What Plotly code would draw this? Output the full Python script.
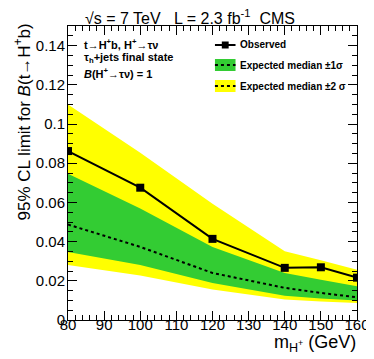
import plotly.graph_objects as go

mass = [80, 100, 120, 140, 150, 160]
observed = [0.0862, 0.0675, 0.0414, 0.0266, 0.0269, 0.0216]
expected = [0.0487, 0.0373, 0.0240, 0.0164, 0.0138, 0.0116]
exp_m1 = [0.0347, 0.0280, 0.0189, 0.0124, 0.0110, 0.0099]
exp_p1 = [0.0746, 0.0569, 0.0373, 0.0240, 0.0205, 0.0172]
exp_m2 = [0.0280, 0.0227, 0.0155, 0.0104, 0.0095, 0.0087]
exp_p2 = [0.1100, 0.0853, 0.0593, 0.0351, 0.0305, 0.0257]

YELLOW = "#ffff00"
GREEN = "#33cc33"
FONT = "Liberation Sans, Arial, sans-serif"

fig = go.Figure()
fig.add_trace(go.Scatter(x=mass, y=exp_m2, mode="lines", line=dict(width=0), showlegend=False, hoverinfo="skip"))
fig.add_trace(go.Scatter(x=mass, y=exp_p2, mode="lines", line=dict(width=0), fill="tonexty",
                         fillcolor=YELLOW, showlegend=False))
fig.add_trace(go.Scatter(x=mass, y=exp_m1, mode="lines", line=dict(width=0), showlegend=False, hoverinfo="skip"))
fig.add_trace(go.Scatter(x=mass, y=exp_p1, mode="lines", line=dict(width=0), fill="tonexty",
                         fillcolor=GREEN, showlegend=False))
fig.add_trace(go.Scatter(x=mass, y=expected, mode="lines", line=dict(color="black", width=2, dash="dot"),
                         showlegend=False))
fig.add_trace(go.Scatter(x=mass, y=observed, mode="lines+markers",
                         line=dict(color="black", width=2),
                         marker=dict(symbol="square", size=8, color="black"), showlegend=False))

L, R, T, B = 60, 19, 18, 47
W, H = 374, 359
pw, ph = W - L - R, H - T - B


def px(x):
    return (x - L) / pw


def py(y):
    return (H - B - y) / ph


axis_common = dict(
    showgrid=False, zeroline=False, showline=True, linecolor="black", linewidth=1,
    mirror="allticks", ticks="inside", ticklen=9, tickwidth=1, tickcolor="black",
    tickfont=dict(family=FONT, size=15, color="black"),
)
fig.update_xaxes(range=[80, 160], dtick=10, tick0=80, ticklabelstandoff=-9,
                 minor=dict(ticks="inside", ticklen=5, dtick=2, tick0=80, tickcolor="black"),
                 **axis_common)
fig.update_yaxes(range=[0, 0.15], dtick=0.02, tick0=0, tickformat="~g", ticklabelstandoff=-1,
                 minor=dict(ticks="inside", ticklen=5, dtick=0.005, tick0=0, tickcolor="black"),
                 **axis_common)

ann = []
ann.append(dict(text="√s = 7 TeV   L = 2.3 fb<sup>-1</sup>  CMS", x=px(75), y=py(9), xref="paper", yref="paper",
                xanchor="left", yanchor="middle", showarrow=False, font=dict(family=FONT, size=16, color="black")))
ann.append(dict(text="95% CL limit for <i>B</i>(t→H<sup>+</sup>b)", x=px(13), y=py(13), xref="paper", yref="paper",
                xanchor="center", yanchor="top", textangle=-90, showarrow=False,
                font=dict(family=FONT, size=17, color="black")))
ann.append(dict(text="m<sub>H<sup>+</sup></sub> (GeV)", x=px(356), y=py(335), xref="paper", yref="paper",
                xanchor="right", yanchor="middle", showarrow=False, font=dict(family=FONT, size=18, color="black")))

bold = dict(family=FONT, size=11, color="black")
ann.append(dict(text="<b>t→H<sup>+</sup>b, H<sup>+</sup>→τν</b>", x=px(74), y=py(36), xref="paper", yref="paper",
                xanchor="left", yanchor="middle", showarrow=False, font=bold))
ann.append(dict(text="<b>τ<sub>h</sub>+jets final state</b>", x=px(74), y=py(50), xref="paper", yref="paper",
                xanchor="left", yanchor="middle", showarrow=False, font=bold))
ann.append(dict(text="<b><i>B</i>(H<sup>+</sup>→τν) = 1</b>", x=px(74), y=py(65), xref="paper", yref="paper",
                xanchor="left", yanchor="middle", showarrow=False, font=bold))

legend_items = [("Observed", 37), ("Expected median ±1σ", 57), ("Expected median ±2 σ", 78)]
for label, yy in legend_items:
    ann.append(dict(text="<b>" + label + "</b>", x=px(234), y=py(yy), xref="paper", yref="paper",
                    xanchor="left", yanchor="middle", showarrow=False, font=dict(family=FONT, size=10, color="black")))

shapes = []
# legend symbols
shapes.append(dict(type="line", xref="paper", yref="paper", x0=px(210), x1=px(231), y0=py(37), y1=py(37),
                   line=dict(color="black", width=2)))
shapes.append(dict(type="rect", xref="paper", yref="paper", x0=px(217), x1=px(224), y0=py(33.5), y1=py(40.5),
                   fillcolor="black", line=dict(width=0)))
for col, yy in [(GREEN, 57), (YELLOW, 78)]:
    shapes.append(dict(type="rect", xref="paper", yref="paper", x0=px(210), x1=px(231), y0=py(yy - 6), y1=py(yy + 6),
                       fillcolor=col, line=dict(width=0)))
    shapes.append(dict(type="line", xref="paper", yref="paper", x0=px(210), x1=px(231), y0=py(yy), y1=py(yy),
                       line=dict(color="black", width=2, dash="dot")))

fig.update_layout(
    width=W, height=H, autosize=False,
    margin=dict(l=L, r=R, t=T, b=B),
    plot_bgcolor="white", paper_bgcolor="white",
    showlegend=False, annotations=ann, shapes=shapes,
    font=dict(family=FONT, color="black"),
)
fig.write_html("out.html")
